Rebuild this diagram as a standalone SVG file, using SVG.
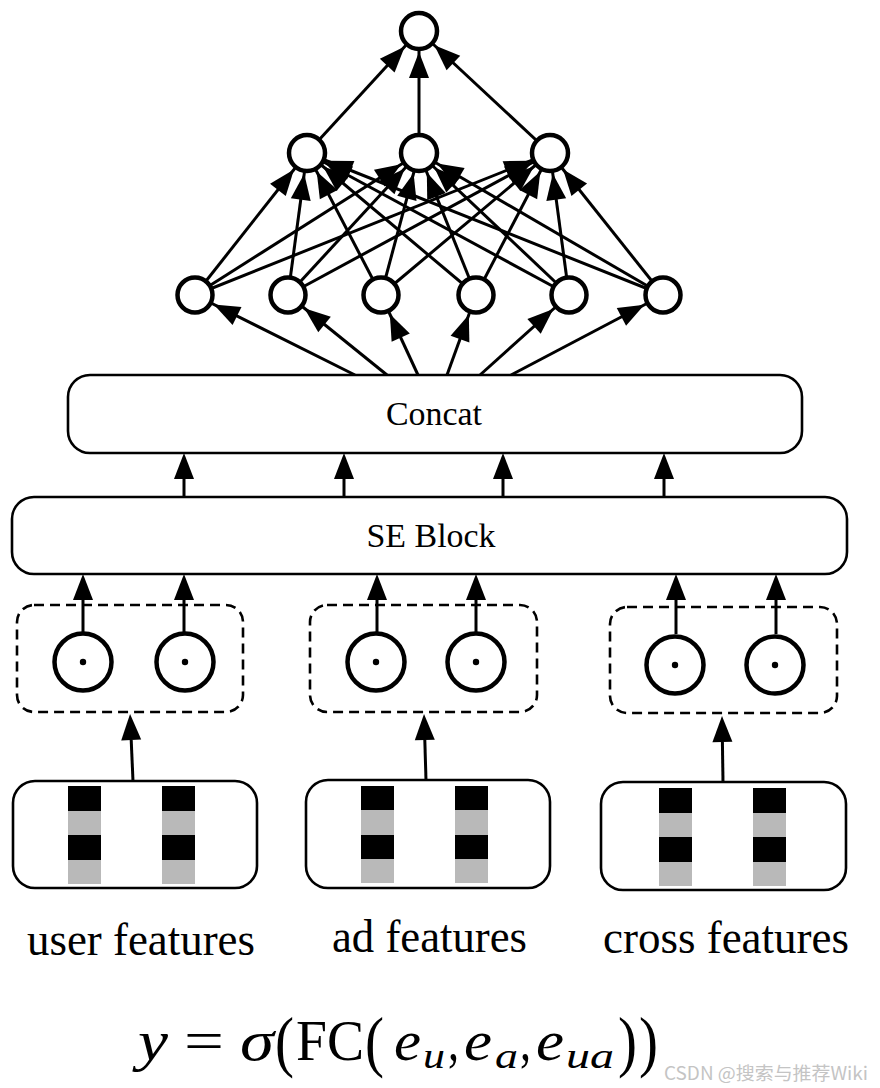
<svg xmlns="http://www.w3.org/2000/svg" width="880" height="1088" viewBox="0 0 880 1088">
<style>
.box{fill:#fff;stroke:#000;stroke-width:2.6}
.dash{fill:none;stroke:#000;stroke-width:2.6;stroke-dasharray:10 6}
.node{fill:#fff;stroke:#000;stroke-width:4.5}
.prod{fill:#fff;stroke:#000;stroke-width:4.5}
.dot{fill:#000}
.edge{stroke:#000;stroke-width:3;fill:none}
.eh{marker-end:url(#ah)}
.en{marker-end:url(#ahn)}
.blk{fill:#000}
.gry{fill:#b9b9b9}
.lbl{font-family:"Liberation Serif","Times New Roman",serif;fill:#000}
.it{font-style:italic}
</style>
<defs>
<marker id="ah" markerUnits="userSpaceOnUse" markerWidth="26" markerHeight="20" refX="0" refY="10" orient="auto" overflow="visible"><path d="M0,0 L26,10 L0,20 z" fill="#000"/></marker>
<marker id="ahn" markerUnits="userSpaceOnUse" markerWidth="27" markerHeight="20" refX="47" refY="10" orient="auto" overflow="visible"><path d="M0,0 L26,10 L0,20 z" fill="#000"/></marker>
</defs>
<rect width="880" height="1088" fill="#fff"/>

<g id="connectors">
<line class="edge en" x1="307" y1="153" x2="419" y2="31"/>
<line class="edge en" x1="419" y1="153" x2="419" y2="31"/>
<line class="edge en" x1="550" y1="153" x2="419" y2="31"/>
<line class="edge en" x1="195" y1="295" x2="307" y2="153"/>
<line class="edge en" x1="195" y1="295" x2="419" y2="153"/>
<line class="edge en" x1="195" y1="295" x2="550" y2="153"/>
<line class="edge en" x1="288" y1="295" x2="307" y2="153"/>
<line class="edge en" x1="288" y1="295" x2="419" y2="153"/>
<line class="edge en" x1="288" y1="295" x2="550" y2="153"/>
<line class="edge en" x1="381" y1="295" x2="307" y2="153"/>
<line class="edge en" x1="381" y1="295" x2="419" y2="153"/>
<line class="edge en" x1="381" y1="295" x2="550" y2="153"/>
<line class="edge en" x1="476" y1="295" x2="307" y2="153"/>
<line class="edge en" x1="476" y1="295" x2="419" y2="153"/>
<line class="edge en" x1="476" y1="295" x2="550" y2="153"/>
<line class="edge en" x1="569" y1="295" x2="307" y2="153"/>
<line class="edge en" x1="569" y1="295" x2="419" y2="153"/>
<line class="edge en" x1="569" y1="295" x2="550" y2="153"/>
<line class="edge en" x1="663" y1="295" x2="307" y2="153"/>
<line class="edge en" x1="663" y1="295" x2="419" y2="153"/>
<line class="edge en" x1="663" y1="295" x2="550" y2="153"/>
<line class="edge en" x1="355" y1="375" x2="195" y2="295"/>
<line class="edge en" x1="387" y1="375" x2="288" y2="295"/>
<line class="edge en" x1="418" y1="375" x2="381" y2="295"/>
<line class="edge en" x1="447" y1="375" x2="476" y2="295"/>
<line class="edge en" x1="480" y1="375" x2="569" y2="295"/>
<line class="edge en" x1="511" y1="375" x2="663" y2="295"/>
<line class="edge eh" x1="184" y1="497" x2="184" y2="479"/>
<line class="edge eh" x1="344" y1="497" x2="344" y2="479"/>
<line class="edge eh" x1="503" y1="497" x2="503" y2="479"/>
<line class="edge eh" x1="664" y1="497" x2="664" y2="479"/>
<line class="edge eh" x1="83" y1="632" x2="83" y2="600"/>
<line class="edge eh" x1="184" y1="632" x2="184" y2="600"/>
<line class="edge eh" x1="377" y1="632" x2="377" y2="600"/>
<line class="edge eh" x1="476" y1="632" x2="476" y2="600"/>
<line class="edge eh" x1="676" y1="634" x2="676" y2="600"/>
<line class="edge eh" x1="776" y1="634" x2="776" y2="600"/>
<line class="edge eh" x1="133" y1="781" x2="131.2" y2="740"/>
<line class="edge eh" x1="426" y1="780" x2="424.8" y2="740"/>
<line class="edge eh" x1="723" y1="782" x2="722.4" y2="742"/>
</g>

<g id="out"><circle class="node" cx="419" cy="31" r="18"/></g>
<g id="h2_1"><circle class="node" cx="307" cy="153" r="18"/></g>
<g id="h2_2"><circle class="node" cx="419" cy="153" r="18"/></g>
<g id="h2_3"><circle class="node" cx="550" cy="153" r="18"/></g>
<g id="h1_1"><circle class="node" cx="195" cy="295" r="17.5"/></g>
<g id="h1_2"><circle class="node" cx="288" cy="295" r="17.5"/></g>
<g id="h1_3"><circle class="node" cx="381" cy="295" r="17.5"/></g>
<g id="h1_4"><circle class="node" cx="476" cy="295" r="17.5"/></g>
<g id="h1_5"><circle class="node" cx="569" cy="295" r="17.5"/></g>
<g id="h1_6"><circle class="node" cx="663" cy="295" r="17.5"/></g>

<g id="concat">
<rect class="box" x="68" y="375" width="734" height="78" rx="22"/>
<text class="lbl" x="434" y="425" font-size="34" text-anchor="middle" textLength="96" lengthAdjust="spacingAndGlyphs">Concat</text>
</g>
<g id="seblock">
<rect class="box" x="12" y="497" width="835" height="77" rx="22"/>
<text class="lbl" x="431" y="547" font-size="34" text-anchor="middle" textLength="129" lengthAdjust="spacingAndGlyphs">SE Block</text>
</g>

<g id="prod_user">
<rect class="dash" x="17" y="605" width="226" height="107" rx="17"/>
<circle class="prod" cx="83" cy="662" r="28.5"/><circle class="dot" cx="83" cy="662" r="3.2"/>
<circle class="prod" cx="185" cy="662" r="28.5"/><circle class="dot" cx="185" cy="662" r="3.2"/>
</g>
<g id="prod_ad">
<rect class="dash" x="310" y="605" width="227" height="107" rx="17"/>
<circle class="prod" cx="376" cy="662" r="28.5"/><circle class="dot" cx="376" cy="662" r="3.2"/>
<circle class="prod" cx="476" cy="662" r="28.5"/><circle class="dot" cx="476" cy="662" r="3.2"/>
</g>
<g id="prod_cross">
<rect class="dash" x="610" y="607" width="227" height="106" rx="17"/>
<circle class="prod" cx="675" cy="665" r="28.5"/><circle class="dot" cx="675" cy="665" r="3.2"/>
<circle class="prod" cx="775" cy="665" r="28.5"/><circle class="dot" cx="775" cy="665" r="3.2"/>
</g>

<g id="feat_user">
<rect class="box" x="13" y="781" width="244" height="107" rx="22"/>
<rect class="blk" x="68" y="786" width="33" height="25"/><rect class="gry" x="68" y="811" width="33" height="24"/>
<rect class="blk" x="68" y="835" width="33" height="25"/><rect class="gry" x="68" y="860" width="33" height="24"/>
<rect class="blk" x="162" y="786" width="33" height="25"/><rect class="gry" x="162" y="811" width="33" height="24"/>
<rect class="blk" x="162" y="835" width="33" height="25"/><rect class="gry" x="162" y="860" width="33" height="24"/>
</g>
<g id="feat_ad">
<rect class="box" x="306" y="780" width="244" height="108" rx="22"/>
<rect class="blk" x="361" y="786" width="33" height="24"/><rect class="gry" x="361" y="810" width="33" height="25"/>
<rect class="blk" x="361" y="835" width="33" height="24"/><rect class="gry" x="361" y="859" width="33" height="24"/>
<rect class="blk" x="455" y="786" width="33" height="24"/><rect class="gry" x="455" y="810" width="33" height="25"/>
<rect class="blk" x="455" y="835" width="33" height="24"/><rect class="gry" x="455" y="859" width="33" height="24"/>
</g>
<g id="feat_cross">
<rect class="box" x="601" y="782" width="245" height="108" rx="22"/>
<rect class="blk" x="659" y="788" width="33" height="25"/><rect class="gry" x="659" y="813" width="33" height="24"/>
<rect class="blk" x="659" y="837" width="33" height="25"/><rect class="gry" x="659" y="862" width="33" height="24"/>
<rect class="blk" x="753" y="788" width="33" height="25"/><rect class="gry" x="753" y="813" width="33" height="24"/>
<rect class="blk" x="753" y="837" width="33" height="25"/><rect class="gry" x="753" y="862" width="33" height="24"/>
</g>

<g id="labels">
<text class="lbl" x="27" y="955" font-size="46" textLength="228" lengthAdjust="spacingAndGlyphs">user features</text>
<text class="lbl" x="332" y="952" font-size="46" textLength="195" lengthAdjust="spacingAndGlyphs">ad features</text>
<text class="lbl" x="603" y="953" font-size="46" textLength="246" lengthAdjust="spacingAndGlyphs">cross features</text>
</g>

<g id="formula" class="lbl">
<text class="it" x="138" y="1060" font-size="56" textLength="30" lengthAdjust="spacingAndGlyphs">y</text>
<text x="184" y="1060" font-size="56" textLength="40" lengthAdjust="spacingAndGlyphs">=</text>
<text class="it" x="240" y="1060" font-size="56" textLength="34" lengthAdjust="spacingAndGlyphs">σ</text>
<text x="275" y="1064" font-size="68" textLength="19" lengthAdjust="spacingAndGlyphs">(</text>
<text x="296" y="1060" font-size="56" textLength="68" lengthAdjust="spacingAndGlyphs">FC</text>
<text x="365" y="1064" font-size="68" textLength="19" lengthAdjust="spacingAndGlyphs">(</text>
<text class="it" x="394" y="1060" font-size="56" textLength="27" lengthAdjust="spacingAndGlyphs">e</text>
<text class="it" x="423" y="1068" font-size="36" textLength="22" lengthAdjust="spacingAndGlyphs">u</text>
<text x="448" y="1060" font-size="56" textLength="11" lengthAdjust="spacingAndGlyphs">,</text>
<text class="it" x="464" y="1060" font-size="56" textLength="28" lengthAdjust="spacingAndGlyphs">e</text>
<text class="it" x="495" y="1068" font-size="36" textLength="23" lengthAdjust="spacingAndGlyphs">a</text>
<text x="520" y="1060" font-size="56" textLength="11" lengthAdjust="spacingAndGlyphs">,</text>
<text class="it" x="536" y="1060" font-size="56" textLength="28" lengthAdjust="spacingAndGlyphs">e</text>
<text class="it" x="566" y="1068" font-size="36" textLength="48" lengthAdjust="spacingAndGlyphs">ua</text>
<text x="618" y="1064" font-size="68" textLength="19" lengthAdjust="spacingAndGlyphs">)</text>
<text x="639" y="1064" font-size="68" textLength="19" lengthAdjust="spacingAndGlyphs">)</text>
</g>

<text x="664" y="1080" font-family="'Noto Sans CJK SC','Noto Sans',sans-serif" font-size="18" fill="#c4c4c4" textLength="204" lengthAdjust="spacingAndGlyphs">CSDN @搜索与推荐Wiki</text>
</svg>
